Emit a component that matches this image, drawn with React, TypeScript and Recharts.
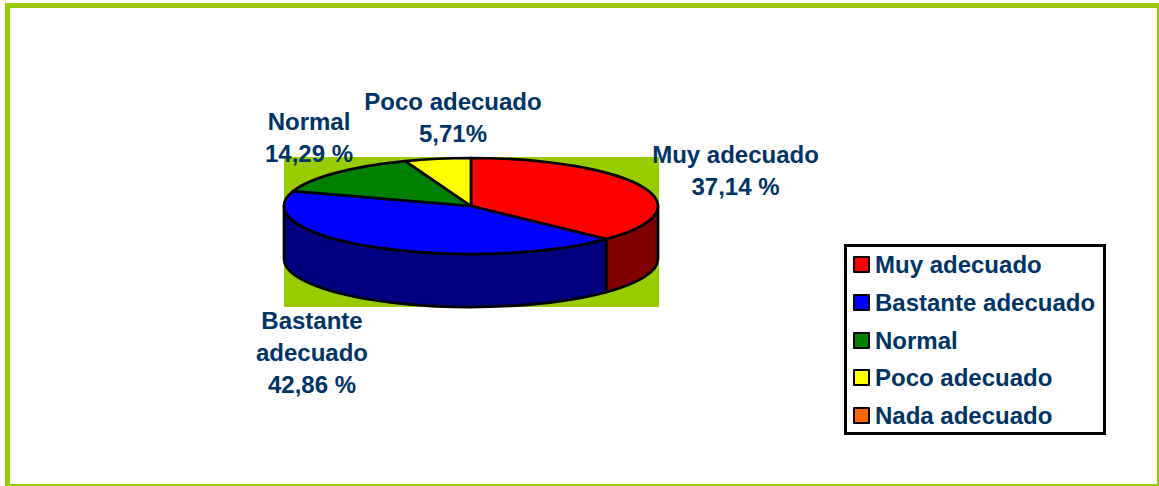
import React from 'react'
import { PieChart, Pie, Legend } from 'recharts'

const CATEGORIES = ['Muy adecuado', 'Bastante adecuado', 'Normal', 'Poco adecuado', 'Nada adecuado']
const VALUES = [37.14, 42.86, 14.29, 5.71, 0]
const SHARE_LABELS = ['37,14 %', '42,86 %', '14,29 %', '5,71%', '']
const COLORS = ['#FF0000', '#0000FF', '#008000', '#FFFF00', '#FF6600']
const SIDE_COLORS = ['#800000', '#000080', '#004000', '#808000', '#803300']

const tableData = CATEGORIES.map((name, i) => ({
  name,
  value: VALUES[i],
  share: SHARE_LABELS[i],
  fill: COLORS[i],
  side: SIDE_COLORS[i],
}))

const NAVY = '#003366'
const FONT = '"Liberation Sans", Arial, sans-serif'
const FONT_SIZE = 24
const OUTLINE = 2.7

// hand placed, the original labels do not sit on any common radius
const LABEL_SPOTS: Record<string, { x: number; y: number; lines: string[] }> = {
  'Muy adecuado': { x: 735.5, y: 163, lines: ['Muy adecuado'] },
  'Bastante adecuado': { x: 312, y: 329, lines: ['Bastante', 'adecuado'] },
  Normal: { x: 309, y: 130, lines: ['Normal'] },
  'Poco adecuado': { x: 453, y: 110, lines: ['Poco adecuado'] },
}

const TILT = 48 / 187
const DEPTH = 53
const rad = (a: number) => (a * Math.PI) / 180

// elliptical wedge plus the visible part of its rim
function TiltedSlice(props: any) {
  const { cx, cy, outerRadius, startAngle, endAngle, payload } = props
  if (!(startAngle - endAngle > 0)) return null
  const rx = outerRadius
  const ry = outerRadius * TILT
  const px = (a: number) => cx + rx * Math.cos(rad(a))
  const py = (a: number) => cy - ry * Math.sin(rad(a))
  const big = startAngle - endAngle > 180 ? 1 : 0
  const top = `M${cx} ${cy}L${px(startAngle)} ${py(startAngle)}A${rx} ${ry} 0 ${big} 1 ${px(endAngle)} ${py(endAngle)}Z`
  const hi = Math.min(startAngle, 0)
  const lo = Math.max(endAngle, -180)
  const side =
    hi > lo
      ? `M${px(hi)} ${py(hi)}A${rx} ${ry} 0 0 1 ${px(lo)} ${py(lo)}L${px(lo)} ${py(lo) + DEPTH}A${rx} ${ry} 0 0 0 ${px(hi)} ${py(hi) + DEPTH}Z`
      : null
  return (
    <g>
      {side && <path d={side} fill={payload?.side ?? props.side} stroke="#000" strokeWidth={OUTLINE} strokeLinejoin="round" />}
      <path d={top} fill={props.fill} stroke="#000" strokeWidth={OUTLINE} strokeLinejoin="round" />
    </g>
  )
}

function SliceLabel(props: any) {
  const spot = LABEL_SPOTS[props.name]
  if (!spot) return null
  const rows = [...spot.lines, props.payload?.share ?? props.share]
  return (
    <text x={spot.x} y={spot.y} textAnchor="middle" fill={NAVY} fontFamily={FONT} fontSize={FONT_SIZE} fontWeight={700}>
      {rows.map((row: string, i: number) => (
        <tspan key={i} x={spot.x} dy={i === 0 ? 0 : 32}>
          {row}
        </tspan>
      ))}
    </text>
  )
}

function LegendBox({ payload }: any) {
  return (
    <div
      style={{
        boxSizing: 'border-box',
        width: 262,
        height: 191,
        background: '#fff',
        border: '3px solid #000',
        position: 'relative',
      }}
    >
      {(payload ?? []).map((entry: any, i: number) => (
        <div key={entry.value} style={{ position: 'absolute', left: -1, top: -1 + i * 37.7, height: 37.7, display: 'flex', alignItems: 'center' }}>
          <span
            style={{
              boxSizing: 'border-box',
              display: 'inline-block',
              width: 17,
              height: 17,
              marginLeft: 7,
              marginRight: 5,
              background: entry.color,
              border: '2px solid #000',
              borderRadius: 1,
            }}
          />
          <span style={{ color: NAVY, fontFamily: FONT, fontSize: FONT_SIZE, fontWeight: 700, whiteSpace: 'nowrap', lineHeight: '37px' }}>
            {entry.value}
          </span>
        </div>
      ))}
    </div>
  )
}

export default function App() {
  return (
    <div style={{ position: 'absolute', left: 0, top: 0, width: 1159, height: 486, background: '#fff', overflow: 'hidden' }}>
      <div
        style={{
          position: 'absolute',
          left: 5,
          top: 3,
          right: 0,
          bottom: 0,
          borderStyle: 'solid',
          borderColor: '#99CC00',
          borderWidth: '5px 2px 2px 5px',
        }}
      />
      <div style={{ position: 'absolute', left: 284, top: 157, width: 375, height: 150, background: '#99CC00' }} />
      <div style={{ position: 'absolute', left: 0, top: 0 }}>
        <PieChart width={1159} height={486} margin={{ top: 0, right: 0, bottom: 0, left: 0 }}>
          <Pie
            data={tableData}
            dataKey="value"
            nameKey="name"
            cx={471}
            cy={206}
            outerRadius={187}
            startAngle={90}
            endAngle={-270}
            isAnimationActive={false}
            shape={TiltedSlice}
            inactiveShape={TiltedSlice}
            activeShape={TiltedSlice}
            label={SliceLabel}
            labelLine={false}
          />
          <Legend
            content={LegendBox}
            itemSorter={null}
            wrapperStyle={{ position: 'absolute', left: 844, top: 244, width: 262, height: 191, bottom: 'auto', right: 'auto' }}
          />
        </PieChart>
      </div>
    </div>
  )
}
